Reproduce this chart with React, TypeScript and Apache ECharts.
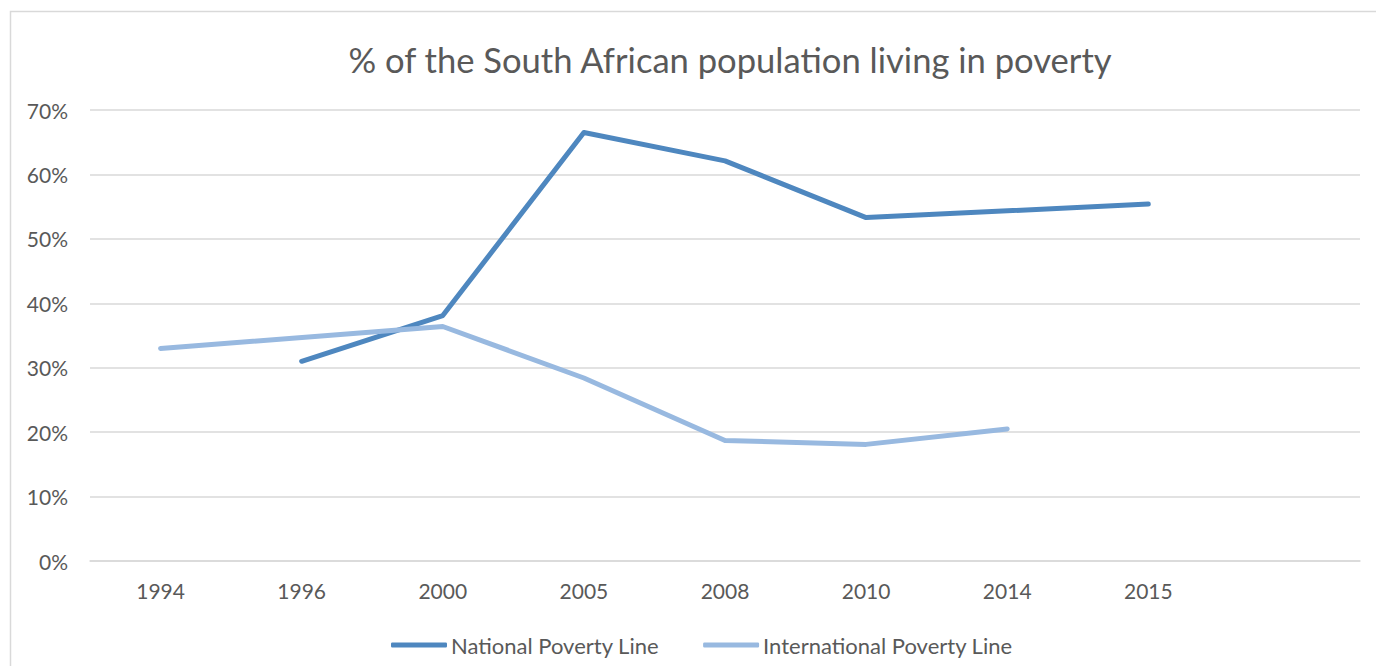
import React, { useEffect, useRef } from "react";
import * as echarts from "echarts";

const years = ["1994", "1996", "2000", "2005", "2008", "2010", "2014", "2015", ""];
const nationalLine = [null, 31.0, 38.1, 66.5, 62.1, 53.3, null, 55.4, null];
const internationalLine = [33.0, null, 36.4, 28.4, 18.7, 18.1, 20.5, null, null];
const seriesNames = ["National Poverty Line", "International Poverty Line"];
const yTicks = [0, 10, 20, 30, 40, 50, 60, 70];

const FONT = "Lato, 'Open Sans', sans-serif";
const TEXT = "#595959";

export default function App() {
  const ref = useRef<HTMLDivElement>(null);
  useEffect(() => {
    if (!ref.current) return;
    const chart = echarts.init(ref.current, undefined, { renderer: "svg" });
    chart.setOption({
      animation: false,
      backgroundColor: "#ffffff",
      textStyle: { fontFamily: FONT },
      title: {
        text: "% of the South African population living in poverty",
        left: 725,
        top: 37,
        textAlign: "center",
        textStyle: { fontFamily: FONT, fontSize: 34.6, fontWeight: "normal", color: TEXT },
      },
      graphic: [
        {
          type: "rect",
          shape: { x: 10.5, y: 11.5, width: 1420, height: 720 },
          style: { fill: "none", stroke: "#d9d9d9", lineWidth: 1.5 },
          silent: true,
        },
      ],
      legend: {
        top: 629,
        left: 386,
        itemGap: 44,
        itemWidth: 56,
        itemHeight: 5,
        icon: "roundRect",
        textStyle: { fontFamily: FONT, fontSize: 22, color: TEXT, padding: [0, 0, 0, -1] },
        data: seriesNames,
      },
      grid: { left: 90, right: 16, top: 110, bottom: 105, containLabel: false },
      xAxis: {
        type: "category",
        data: years,
        boundaryGap: true,
        axisLine: { show: true, lineStyle: { color: "#d9d9d9", width: 1.5 } },
        axisTick: { show: false },
        axisLabel: { color: TEXT, fontSize: 21, fontFamily: FONT, margin: 19 },
      },
      yAxis: {
        type: "value",
        min: yTicks[0],
        max: yTicks[yTicks.length - 1],
        interval: 10,
        axisLine: { show: false },
        axisTick: { show: false },
        splitLine: { lineStyle: { color: "#d9d9d9", width: 1.5 } },
        axisLabel: { color: TEXT, fontSize: 21, fontFamily: FONT, margin: 22, formatter: "{value}%" },
      },
      series: [
        {
          name: seriesNames[0],
          type: "line",
          data: nationalLine,
          connectNulls: true,
          symbol: "none",
          color: "#4e87bf",
          lineStyle: { width: 5, color: "#4e87bf", cap: "round", join: "round" },
        },
        {
          name: seriesNames[1],
          type: "line",
          data: internationalLine,
          connectNulls: true,
          symbol: "none",
          color: "#98b9e0",
          lineStyle: { width: 5, color: "#98b9e0", cap: "round", join: "round" },
        },
      ],
    });
    return () => chart.dispose();
  }, []);
  return (
    <div style={{ position: "fixed", left: 0, top: 0, width: 1376, height: 666, background: "#fff" }}>
      <div ref={ref} style={{ width: 1376, height: 666 }} />
    </div>
  );
}
